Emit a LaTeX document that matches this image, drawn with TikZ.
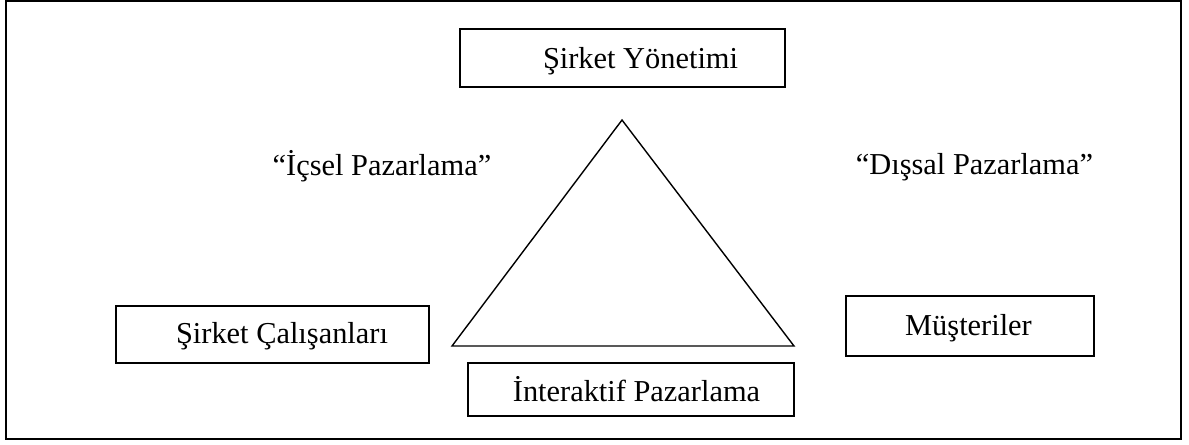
\documentclass[tikz,border=0pt]{standalone}
\usepackage{fontspec}
\setmainfont{Liberation Serif}
\usepackage{tikz}
\usetikzlibrary{positioning,calc}
\tikzset{
  box/.style={draw,line width=1pt,inner sep=0pt},
  lbl/.style={font=\fontsize{17.3}{20}\selectfont,inner sep=0pt,anchor=base},
  frm/.style={draw,line width=1.3pt}
}
\begin{document}
\begin{tikzpicture}[x=0.02cm,y=-0.02cm]
\useasboundingbox (0,0) rectangle (1189,444);
\draw[frm] (6,1) rectangle (1181,439);
% kutular
\node[box,minimum width=6.5cm,minimum height=1.16cm] (yon) at (622.5,58) {};
\node[lbl] (yont) at (640.5,68) {Şirket Yönetimi};
\node[box,minimum width=6.26cm,minimum height=1.14cm] (cal) at (272.5,334.5) {};
\node[lbl] (calt) at (282,343) {Şirket Çalışanları};
\node[box,minimum width=6.52cm,minimum height=1.06cm] (int) at (631,389.5) {};
\node[lbl] (intt) at (636.5,401.5) {İnteraktif Pazarlama};
\node[box,minimum width=4.96cm,minimum height=1.2cm] (mus) at (970,326) {};
\node[lbl] (must) at (968.5,335) {Müşteriler};
% etiketler
\node[lbl] (ic) at (382,175) {“İçsel Pazarlama”};
\node[lbl] (dis) at (974.5,174) {“Dışsal Pazarlama”};
% ucgen
\coordinate (tp) at (622,120);
\coordinate (tl) at (452,346);
\coordinate (tr) at (794,346);
\draw[line width=0.8pt] (tp) -- (tl) -- (tr) -- cycle;
\end{tikzpicture}
\end{document}
